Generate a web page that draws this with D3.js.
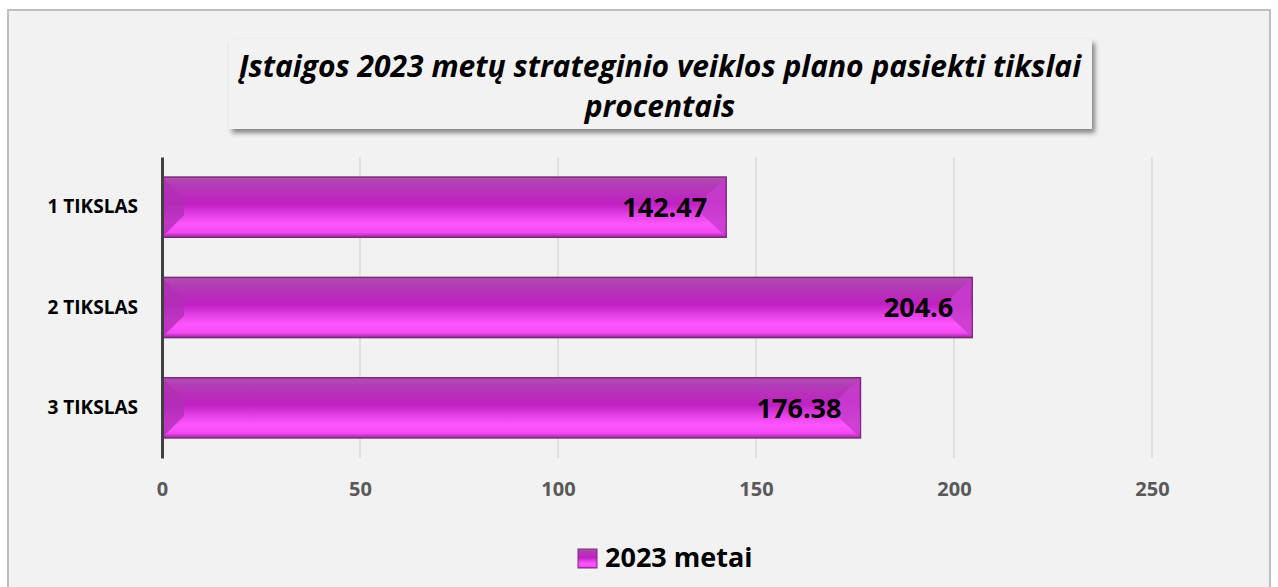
<!DOCTYPE html>
<html>
<head>
<meta charset="utf-8">
<script src="https://cdn.jsdelivr.net/npm/d3@7/dist/d3.min.js"></script>
<style>
  body { margin: 0; background: #ffffff; }
  svg { display: block; font-family: "Open Sans", "Liberation Sans", sans-serif; }
</style>
</head>
<body>
<div id="chart"></div>
<script>
// Chart data
var categories = ["1 TIKSLAS", "2 TIKSLAS", "3 TIKSLAS"];
var values = [142.47, 204.6, 176.38];
var valueLabels = ["142.47", "204.6", "176.38"];
var xTicks = [0, 50, 100, 150, 200, 250];
var seriesName = "2023 metai";
var titleLines = ["Įstaigos 2023 metų strateginio veiklos plano pasiekti tikslai", "procentais"];

var W = 1278, H = 587;
var margin = { top: 157, left: 162, right: W - 1152, bottom: H - 458 };
var width = W - margin.left - margin.right;
var height = H - margin.top - margin.bottom;

var svg = d3.select("#chart").append("svg")
  .attr("width", W)
  .attr("height", H);

var defs = svg.append("defs");

// bar gradient (top dark -> bright lower band)
var grad = defs.append("linearGradient")
  .attr("id", "barGrad")
  .attr("x1", 0).attr("y1", 0).attr("x2", 0).attr("y2", 1);
grad.append("stop").attr("offset", "0%").attr("stop-color", "#b04fb0");
grad.append("stop").attr("offset", "12%").attr("stop-color", "#b23db4");
grad.append("stop").attr("offset", "45%").attr("stop-color", "#c020c2");
grad.append("stop").attr("offset", "62%").attr("stop-color", "#e040e4");
grad.append("stop").attr("offset", "78%").attr("stop-color", "#ff55ff");
grad.append("stop").attr("offset", "92%").attr("stop-color", "#f24af2");
grad.append("stop").attr("offset", "100%").attr("stop-color", "#9a2a9a");

var shadow = defs.append("filter").attr("id", "shadow")
  .attr("x", "-5%").attr("y", "-20%").attr("width", "115%").attr("height", "160%");
shadow.append("feDropShadow")
  .attr("dx", 3).attr("dy", 4).attr("stdDeviation", 2.5)
  .attr("flood-color", "#000").attr("flood-opacity", 0.45);

// chart frame
svg.append("rect")
  .attr("x", 8).attr("y", 10)
  .attr("width", 1262).attr("height", H)
  .attr("fill", "#f2f2f2")
  .attr("stroke", "#bfbfbf")
  .attr("stroke-width", 2);

// title box
svg.append("rect")
  .attr("x", 229).attr("y", 39)
  .attr("width", 863).attr("height", 90)
  .attr("fill", "#f2f2f2")
  .attr("filter", "url(#shadow)");

svg.selectAll(".title")
  .data(titleLines)
  .enter().append("text")
  .attr("class", "title")
  .attr("x", 660)
  .attr("y", function(d, i) { return 77 + i * 40; })
  .attr("text-anchor", "middle")
  .style("font-size", "30px")
  .style("font-weight", "bold")
  .style("font-style", "italic")
  .style("fill", "#000")
  .text(function(d) { return d; });

var g = svg.append("g")
  .attr("transform", "translate(" + margin.left + "," + margin.top + ")");

var x = d3.scaleLinear()
  .domain([0, 250])
  .range([0, width]);

var y = d3.scaleBand()
  .domain(categories)
  .range([0, height])
  .paddingInner(0.4)
  .paddingOuter(0.2);

// gridlines
g.selectAll(".grid")
  .data(xTicks.slice(1))
  .enter().append("line")
  .attr("class", "grid")
  .attr("x1", function(d) { return x(d); })
  .attr("x2", function(d) { return x(d); })
  .attr("y1", 0)
  .attr("y2", height)
  .attr("stroke", "#cfcfcf")
  .attr("stroke-width", 1);

var data = categories.map(function(c, i) {
  return { cat: c, value: values[i], label: valueLabels[i] };
});

var bars = g.selectAll(".bar")
  .data(data)
  .enter().append("g")
  .attr("class", "bar");

var bev = 22;

bars.append("rect")
  .attr("x", 0)
  .attr("y", function(d) { return y(d.cat); })
  .attr("width", function(d) { return x(d.value); })
  .attr("height", y.bandwidth())
  .attr("fill", "url(#barGrad)")
  .attr("stroke", "#7a2a7a")
  .attr("stroke-width", 1.5);

// bevel at left end
bars.append("path")
  .attr("d", function(d) {
    var y0 = y(d.cat), h = y.bandwidth();
    return "M1," + (y0 + 1) + "L" + bev + "," + (y0 + bev) + "L" + bev + "," + (y0 + h - bev) +
      "L1," + (y0 + h - 1) + "Z";
  })
  .attr("fill", "#b030b4")
  .attr("opacity", 0.8);

// bevel at right end
bars.append("path")
  .attr("d", function(d) {
    var y0 = y(d.cat), h = y.bandwidth(), x1 = x(d.value) - 1;
    return "M" + x1 + "," + (y0 + 1) + "L" + (x1 - bev) + "," + (y0 + bev) + "L" + (x1 - bev) + "," + (y0 + h - bev) +
      "L" + x1 + "," + (y0 + h - 1) + "Z";
  })
  .attr("fill", "#c83ccc")
  .attr("opacity", 0.85);

// value labels
bars.append("text")
  .attr("x", function(d) { return x(d.value) - 19; })
  .attr("y", function(d) { return y(d.cat) + y.bandwidth() / 2; })
  .attr("dy", "0.37em")
  .attr("text-anchor", "end")
  .style("font-size", "27px")
  .style("font-weight", "bold")
  .style("fill", "#000")
  .text(function(d) { return d.label; });

// category axis
var yAxis = g.append("g")
  .call(d3.axisLeft(y).tickSize(0).tickPadding(24));
yAxis.select(".domain")
  .attr("stroke", "#404040")
  .attr("stroke-width", 3);
yAxis.selectAll("text")
  .style("font-size", "19px")
  .style("font-weight", "bold")
  .style("fill", "#000")
  .style("font-family", "'Open Sans', sans-serif");

// value axis (labels only)
var xAxis = g.append("g")
  .attr("transform", "translate(0," + height + ")")
  .call(d3.axisBottom(x).tickValues(xTicks).tickSize(0).tickPadding(24));
xAxis.select(".domain").remove();
xAxis.selectAll("text")
  .style("font-size", "20px")
  .style("font-weight", "bold")
  .style("fill", "#595959")
  .style("font-family", "'Open Sans', sans-serif");

// legend
var legend = svg.append("g").attr("transform", "translate(578,549)");
legend.append("rect")
  .attr("width", 19).attr("height", 19)
  .attr("fill", "url(#barGrad)")
  .attr("stroke", "#7a2a7a")
  .attr("stroke-width", 1);
legend.append("text")
  .attr("x", 27)
  .attr("y", 18)
  .style("font-size", "27px")
  .style("font-weight", "bold")
  .style("fill", "#000")
  .text(seriesName);
</script>
</body>
</html>
